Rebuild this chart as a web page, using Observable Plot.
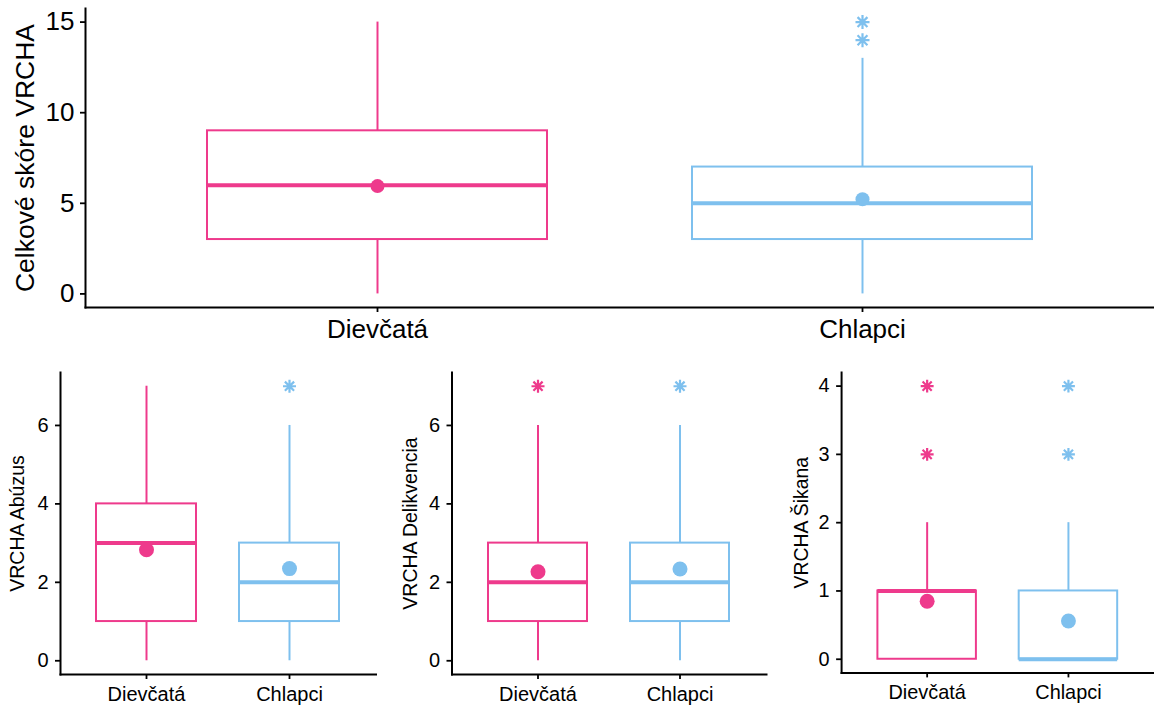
<!DOCTYPE html>
<html>
<head>
<meta charset="utf-8">
<script src="https://cdn.jsdelivr.net/npm/d3@7"></script>
<script src="https://cdn.jsdelivr.net/npm/@observablehq/plot@0.6"></script>
<style>
  html, body { margin: 0; padding: 0; background: white; overflow: hidden; }
  #root { position: relative; width: 1154px; height: 709px; overflow: hidden; font-family: "Liberation Sans", Arial, sans-serif; }
  #root > div { position: absolute; }
  svg { overflow: visible; }
</style>
</head>
<body>
<div id="root">
  <div id="p0" style="left:0px;top:0px"></div>
  <div id="p1" style="left:0px;top:360px"></div>
  <div id="p2" style="left:380px;top:360px"></div>
  <div id="p3" style="left:760px;top:360px"></div>
</div>
<script>
// ---- data ----
const groups = ["Dievčatá", "Chlapci"];
const colors = ["#EE3A8C", "#7EC0EE"];
const measures = ["Celkové skóre VRCHA", "VRCHA Abúzus", "VRCHA Delikvencia", "VRCHA Šikana"];
const q1Values      = [[3, 3], [1, 1], [1, 1], [0, 0]];
const medianValues  = [[6, 5], [3, 2], [2, 2], [1, 0]];
const q3Values      = [[9, 7], [4, 3], [3, 3], [1, 1]];
const whiskerLow    = [[0, 0], [0, 0], [0, 0], [0, 0]];
const whiskerHigh   = [[15, 13], [7, 6], [6, 6], [2, 2]];
const meanValues    = [[5.95, 5.22], [2.83, 2.35], [2.27, 2.34], [0.85, 0.56]];
const outlierValues = [[[], [14, 15]], [[], [7]], [[7], [7]], [[3, 4], [3, 4]]];
const yTicks  = [[0, 5, 10, 15], [0, 2, 4, 6], [0, 2, 4, 6], [0, 1, 2, 3, 4]];
const yDomains = [[-0.75, 15.75], [-0.35, 7.35], [-0.35, 7.35], [-0.2, 4.2]];

// 8-armed asterisk (like R's pch 8)
const asterisk = {
  draw(ctx, size) {
    const r = Math.sqrt(size / Math.PI);
    const d = r / Math.SQRT2;
    ctx.moveTo(0, -r); ctx.lineTo(0, r);
    ctx.moveTo(-r, 0); ctx.lineTo(r, 0);
    ctx.moveTo(-d, -d); ctx.lineTo(d, d);
    ctx.moveTo(-d, d); ctx.lineTo(d, -d);
  }
};

const layouts = [
  {width: 1154, height: 350, marginLeft: 85, marginRight: 0, marginTop: 8, marginBottom: 43, fontSize: 26, titleSize: 26.5, titleDx: -52, tickPadding: 6, xPad: 7, r: 7, ar: 7},
  {width: 380, height: 349, marginLeft: 60, marginRight: 4.5, marginTop: 12, marginBottom: 35, fontSize: 20, titleSize: 19.5, titleDx: -37, tickPadding: 7, xPad: 7, r: 7.5, ar: 6.5},
  {width: 390, height: 349, marginLeft: 71.5, marginRight: 4, marginTop: 12, marginBottom: 35, fontSize: 20, titleSize: 19.5, titleDx: -35, tickPadding: 7, xPad: 7, r: 7.5, ar: 6.5},
  {width: 396, height: 349, marginLeft: 81.5, marginRight: 0, marginTop: 12, marginBottom: 35, fontSize: 20, titleSize: 19.5, titleDx: -34, tickPadding: 7, xPad: 7, r: 7.5, ar: 6.5}
];

function panel(i) {
  const L = layouts[i];
  const rows = groups.map((g, j) => ({
    group: g, q1: q1Values[i][j], median: medianValues[i][j], q3: q3Values[i][j],
    lo: whiskerLow[i][j], hi: whiskerHigh[i][j], mean: meanValues[i][j]
  }));
  const outs = groups.flatMap((g, j) => outlierValues[i][j].map(v => ({group: g, value: v})));
  return Plot.plot({
    width: L.width, height: L.height,
    marginLeft: L.marginLeft, marginRight: L.marginRight, marginTop: L.marginTop, marginBottom: L.marginBottom,
    style: {fontFamily: '"Liberation Sans", Arial, sans-serif', color: "black", background: "transparent"},
    x: {domain: groups, type: "band", paddingInner: 0.3, paddingOuter: 0.25, label: null},
    y: {domain: yDomains[i], label: null},
    color: {domain: groups, range: colors},
    marks: [
      Plot.frame({anchor: "left", stroke: "black", strokeWidth: 2}),
      Plot.frame({anchor: "bottom", stroke: "black", strokeWidth: 2}),
      Plot.axisY({ticks: yTicks[i], tickFormat: d3.format("d"), tickSize: 5, tickPadding: L.tickPadding, fontSize: L.fontSize, label: null, strokeWidth: 1.8}),
      Plot.axisX({tickSize: 5, tickPadding: L.xPad, fontSize: L.fontSize, label: null, strokeWidth: 1.8}),
      Plot.ruleX(rows, {x: "group", y1: "lo", y2: "q1", stroke: "group", strokeWidth: 2}),
      Plot.ruleX(rows, {x: "group", y1: "q3", y2: "hi", stroke: "group", strokeWidth: 2}),
      Plot.barY(rows, {x: "group", y1: "q1", y2: "q3", fill: "white", stroke: "group", strokeWidth: 2}),
      Plot.tickY(rows, {x: "group", y: "median", stroke: "group", strokeWidth: 4}),
      Plot.dot(rows, {x: "group", y: "mean", r: L.r, fill: "group", stroke: null}),
      Plot.dot(outs, {x: "group", y: "value", symbol: asterisk, r: L.ar, stroke: "group", fill: "none", strokeWidth: 2.2}),
      Plot.text([measures[i]], {frameAnchor: "left", rotate: -90, dx: L.titleDx, fontSize: L.titleSize, lineAnchor: "bottom", textAnchor: "middle", fill: "black"})
    ]
  });
}

for (let i = 0; i < 4; i++) {
  document.getElementById("p" + i).appendChild(panel(i));
}
</script>
</body>
</html>
